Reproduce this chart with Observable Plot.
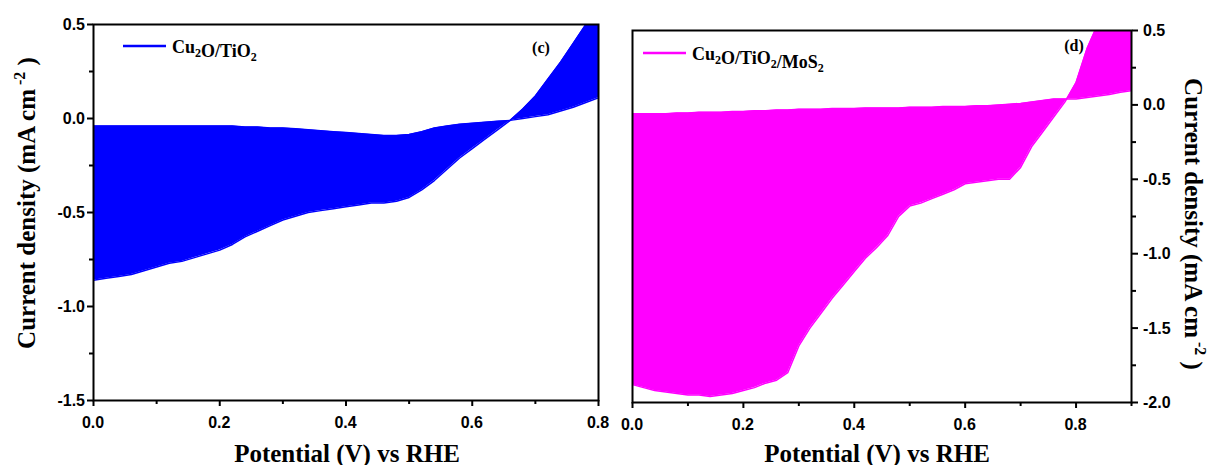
<!DOCTYPE html>
<html><head><meta charset="utf-8">
<script src="https://cdn.jsdelivr.net/npm/d3@7"></script>
<script src="https://cdn.jsdelivr.net/npm/@observablehq/plot@0.6"></script>
<style>
body{margin:0;background:#fff;}
#wrap{display:flex;width:1211px;height:465px;}
</style></head><body><div id="wrap"></div>
<script>
// Panel (c): Cu2O/TiO2
const potentialC = [0,0.02,0.04,0.06,0.08,0.10,0.12,0.14,0.16,0.18,0.20,0.22,0.24,0.26,0.28,0.30,0.32,0.34,0.36,0.38,0.40,0.42,0.44,0.46,0.48,0.50,0.52,0.54,0.56,0.58,0.60,0.62,0.64,0.66,0.68,0.70,0.72,0.74,0.76,0.78,0.80];
const darkC = [-0.04,-0.04,-0.04,-0.04,-0.04,-0.04,-0.04,-0.04,-0.04,-0.04,-0.04,-0.04,-0.045,-0.045,-0.05,-0.05,-0.055,-0.06,-0.065,-0.07,-0.075,-0.08,-0.085,-0.09,-0.09,-0.085,-0.07,-0.05,-0.04,-0.03,-0.025,-0.02,-0.015,-0.01,0.0,0.01,0.02,0.04,0.06,0.085,0.11];
const lightC = [-0.86,-0.85,-0.84,-0.83,-0.81,-0.79,-0.77,-0.76,-0.74,-0.72,-0.70,-0.67,-0.63,-0.60,-0.57,-0.54,-0.52,-0.50,-0.49,-0.48,-0.47,-0.46,-0.45,-0.45,-0.44,-0.42,-0.38,-0.33,-0.27,-0.21,-0.16,-0.11,-0.06,-0.01,0.05,0.12,0.21,0.30,0.40,0.50,0.58];

// Panel (d): Cu2O/TiO2/MoS2
const potentialD = [0,0.02,0.04,0.06,0.08,0.10,0.12,0.14,0.16,0.18,0.20,0.22,0.24,0.26,0.28,0.30,0.32,0.34,0.36,0.38,0.40,0.42,0.44,0.46,0.48,0.50,0.52,0.54,0.56,0.58,0.60,0.62,0.64,0.66,0.68,0.70,0.72,0.74,0.76,0.78,0.80,0.82,0.84,0.86,0.88,0.90];
const darkD = [-0.06,-0.06,-0.06,-0.06,-0.055,-0.055,-0.05,-0.05,-0.05,-0.045,-0.045,-0.04,-0.04,-0.035,-0.035,-0.03,-0.03,-0.03,-0.025,-0.025,-0.025,-0.02,-0.02,-0.02,-0.02,-0.015,-0.015,-0.015,-0.01,-0.01,-0.01,-0.005,-0.005,0.0,0.005,0.01,0.02,0.03,0.04,0.04,0.04,0.05,0.06,0.07,0.085,0.095];
const lightD = [-1.88,-1.90,-1.92,-1.93,-1.94,-1.95,-1.95,-1.96,-1.95,-1.94,-1.92,-1.90,-1.87,-1.85,-1.80,-1.62,-1.50,-1.40,-1.30,-1.21,-1.12,-1.03,-0.96,-0.88,-0.75,-0.68,-0.66,-0.63,-0.60,-0.57,-0.53,-0.52,-0.51,-0.50,-0.50,-0.42,-0.28,-0.18,-0.08,0.02,0.15,0.38,0.55,0.62,0.66,0.70];

const xTicksC = [0,0.2,0.4,0.6,0.8], xMinorC = [0.1,0.3,0.5,0.7];
const yTicksC = [-1.5,-1.0,-0.5,0.0,0.5], yMinorC = [-1.25,-0.75,-0.25,0.25];
const xTicksD = [0,0.2,0.4,0.6,0.8], xMinorD = [0.1,0.3,0.5,0.7,0.9];
const yTicksD = [-2.0,-1.5,-1.0,-0.5,0.0,0.5], yMinorD = [-1.75,-1.25,-0.75,-0.25,0.25];

const xTitle = "Potential (V) vs RHE";
const yTitle = "Current density (mA cm";

const serif = "'Liberation Serif','Times New Roman',serif";
const sans = "'Liberation Sans', Arial, sans-serif";

function panel(o) {
  const data = o.x.map((v, i) => ({x: v, dark: o.dark[i], light: o.light[i]}));
  const fmt = d => d.toFixed(1);
  const none = () => "";
  const right = o.yAnchor === "right";
  const svg = Plot.plot({
    width: o.width, height: 465,
    marginLeft: o.ml, marginRight: o.mr, marginTop: o.mt, marginBottom: o.mb,
    x: {domain: o.xDomain, label: null},
    y: {domain: o.yDomain, label: null},
    style: {color: "black", background: "transparent", overflow: "visible"},
    marks: [
      Plot.areaY(data, {x: "x", y1: "light", y2: "dark", fill: o.color, clip: true}),
      Plot.lineY(data, {x: "x", y: "light", stroke: o.color, strokeWidth: 1.5, clip: true}),
      Plot.lineY(data, {x: "x", y: "dark", stroke: o.color, strokeWidth: 1.5, clip: true}),
      Plot.axisX({ticks: o.xTicks, tickSize: 6, strokeWidth: 2, tickFormat: none, label: null}),
      Plot.axisX({ticks: o.xMinor, tickSize: 4, strokeWidth: 2, tickFormat: none, label: null}),
      Plot.axisY({ticks: o.yTicks, anchor: o.yAnchor, tickSize: 6, strokeWidth: 2, tickFormat: none, label: null}),
      Plot.axisY({ticks: o.yMinor, anchor: o.yAnchor, tickSize: 4, strokeWidth: 2, tickFormat: none, label: null}),
      Plot.frame({stroke: "black", strokeWidth: 2})
    ]
  });
  const s = d3.select(svg);
  const sx = svg.scale("x"), sy = svg.scale("y");
  const plotBottom = 465 - o.mb;
  const plotLeft = o.ml, plotRight = o.width - o.mr;
  // tick labels placed with Plot's own scales
  const tl = s.append("g").attr("font-family", sans).attr("font-weight", "bold").attr("font-size", 16).attr("fill", "black");
  o.xTicks.forEach(v => {
    tl.append("text").attr("x", sx.apply(v)).attr("y", plotBottom + 28).attr("text-anchor", "middle").text(fmt(v));
  });
  o.yTicks.forEach(v => {
    tl.append("text").attr("x", right ? plotRight + 12 : plotLeft - 8).attr("y", sy.apply(v) + 6)
      .attr("text-anchor", right ? "start" : "end").text(fmt(v));
  });
  // x title
  s.append("text").attr("x", o.xtX).attr("y", 462).attr("text-anchor", "middle")
    .attr("font-family", serif).attr("font-weight", "bold").attr("font-size", 25).attr("fill", "black").text(xTitle);
  // y title
  const yt = s.append("text").attr("transform", `translate(${o.ytX},${o.ytY}) rotate(${o.ytRot})`)
    .attr("text-anchor", "middle").attr("font-family", serif).attr("font-weight", "bold").attr("font-size", 25).attr("fill", "black");
  yt.append("tspan").text(yTitle);
  yt.append("tspan").attr("dy", -10).attr("font-size", 16).text(" -2");
  yt.append("tspan").attr("dy", 10).text(" )");
  // legend
  s.append("line").attr("x1", o.lgX).attr("x2", o.lgX + 43).attr("y1", o.lgY).attr("y2", o.lgY)
    .attr("stroke", o.color).attr("stroke-width", 2.5);
  const lt = s.append("text").attr("x", o.lgX + 49).attr("y", o.lgY + 7).attr("text-anchor", "start")
    .attr("font-family", serif).attr("font-weight", "bold").attr("font-size", 18).attr("fill", "black");
  o.legend.forEach(([t, sub]) => {
    lt.append("tspan").text(t);
    if (sub) { lt.append("tspan").attr("font-size", 12).attr("dy", 4).text(sub); lt.append("tspan").attr("dy", -4).text(""); }
  });
  // panel tag
  s.append("text").attr("x", o.tagX).attr("y", o.tagY).attr("text-anchor", "middle")
    .attr("font-family", serif).attr("font-weight", "bold").attr("font-size", 16).attr("fill", "black").text(o.tag);
  return svg;
}

const wrap = document.getElementById("wrap");
wrap.appendChild(panel({
  x: potentialC, dark: darkC, light: lightC, color: "#0000ff",
  width: 605, ml: 93, mr: 7, mt: 24, mb: 65,
  xDomain: [0, 0.8], yDomain: [-1.5, 0.5],
  xTicks: xTicksC, xMinor: xMinorC, yTicks: yTicksC, yMinor: yMinorC, yAnchor: "left",
  xtX: 347, ytX: 35, ytY: 203, ytRot: -90,
  lgX: 123, lgY: 46, legend: [["Cu", "2"], ["O/TiO", "2"]],
  tag: "(c)", tagX: 541, tagY: 53
}));
wrap.appendChild(panel({
  x: potentialD, dark: darkD, light: lightD, color: "#ff00ff",
  width: 606, ml: 27, mr: 80, mt: 30, mb: 63,
  xDomain: [0, 0.9], yDomain: [-2.0, 0.5],
  xTicks: xTicksD, xMinor: xMinorD, yTicks: yTicksD, yMinor: yMinorD, yAnchor: "right",
  xtX: 272, ytX: 580, ytY: 224, ytRot: 90,
  lgX: 38, lgY: 53, legend: [["Cu", "2"], ["O/TiO", "2"], ["/MoS", "2"]],
  tag: "(d)", tagX: 469, tagY: 51
}));
</script></body></html>
